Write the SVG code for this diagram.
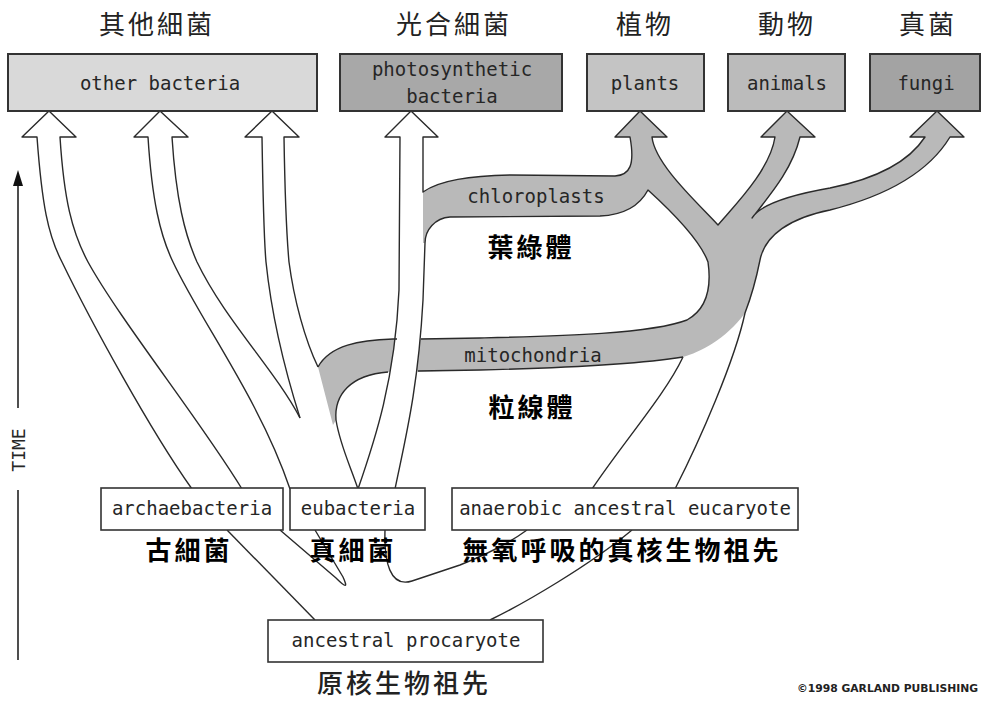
<svg xmlns="http://www.w3.org/2000/svg" width="982" height="702" viewBox="0 0 982 702">
<defs>
<style>
.bx{stroke:#333;stroke-width:2}
.bb{fill:#fff;stroke:#333;stroke-width:1.6}
.ln{fill:none;stroke:#2a2a2a;stroke-width:1.4;stroke-linejoin:round}
.lb{font-family:"DejaVu Sans Mono","Liberation Mono",monospace;font-size:19px;fill:#262626;text-anchor:middle}
.zh{font-family:"Noto Sans CJK TC","Noto Sans CJK SC",sans-serif;font-size:26px;letter-spacing:3px;fill:#222;text-anchor:middle}
.zb{font-family:"Noto Sans CJK TC","Noto Sans CJK SC",sans-serif;font-size:26px;letter-spacing:3px;font-weight:bold;fill:#000;text-anchor:middle}
</style>
</defs>
<rect width="982" height="702" fill="#fff"/>

<g id="connectors">
  <path fill="#b9b9b9" d="M640,111 L667,137 L652,137 C655,165 700,205 718,225 C735,205 770,170 775,137 L761,137 L787,111 L815,137 L800,137 C792,170 770,195 752,218 C760,205 790,195 830,188 C880,178 910,160 925,137 L910,137 L937,111 L964,137 L950,137 C930,170 890,195 830,210 C790,218 765,235 760,260 C755,285 750,300 745,313 C725,340 700,352 683,357 C640,364 560,368 480,370 L405,372 L390,372 C350,375 334,395 336,420 L333,425 L318,367 C330,345 360,340 393,339 L480,338 C560,336 650,334 687,320 C705,310 712,290 708,262 C700,240 670,210 648,190 C640,205 625,215 600,216 L450,217 C435,218 425,230 425,243 L420,243 L420,192 L423,192 C440,180 470,176 510,175 L615,176 C630,175 635,165 630,137 L615,137 Z"/>
  <path fill="#fff" d="M411,111 L438,137 L423,137 L423,300 C418,390 405,440 395,489 L358,489 C375,440 395,380 399,290 L400,137 L385,137 Z"/>

  <path class="ln" d="M192,489 C150,430 90,320 62,262 C48,235 42,205 37,137 L22,137 L49,111 L76,137 L60,137 C64,200 72,232 88,262 C120,320 200,420 242,489"/>
  <path class="ln" d="M290,489 C260,400 200,320 173,262 C160,235 152,200 148,137 L134,137 L160,111 L188,137 L172,137 C176,200 185,235 197,262 C225,320 275,370 300,418"/>
  <path class="ln" d="M300,418 C288,380 272,320 266,262 C264,240 263,200 262,137 L245,137 L272,111 L299,137 L284,137 C285,200 287,240 289,262 C294,300 305,340 318,367"/>
  <path class="ln" d="M675,489 C700,440 735,360 745,313 C750,300 755,285 760,260 C765,235 790,218 830,210 C890,195 930,170 950,137 L964,137 L937,111 L910,137 L925,137 C910,160 880,178 830,188 C790,195 760,205 752,218 C770,195 792,170 800,137 L815,137 L787,111 L761,137 L775,137 C770,170 735,205 718,225 C700,205 655,165 652,137 L667,137 L640,111 L615,137 L630,137 C635,165 630,175 615,176 L510,175 C470,176 440,180 423,192 L423,137 L438,137 L411,111 L385,137 L400,137 L399,290 C395,380 375,440 358,489"/>
  <path class="ln" d="M395,489 C405,440 418,390 423,300 L425,243 C425,230 435,218 450,217 L600,216 C625,215 640,205 648,190 C670,210 700,240 708,262 C712,290 705,310 687,320 C650,334 560,336 480,338 L421,339"/>
  <path class="ln" d="M397,339 L393,339 C360,340 330,345 318,367"/>
  <path class="ln" d="M683,357 C640,364 560,368 480,370 L418,371"/>
  <path class="ln" d="M388,372 C350,375 334,395 336,420 C340,445 350,465 358,489"/>
  <path class="ln" d="M592,489 C625,440 665,395 683,357"/>
  <path class="ln" d="M227,530 L315,620"/>
  <path class="ln" d="M280,530 L336,578 C346,588 348,588 343,577 L315,530"/>
  <path class="ln" d="M385,530 C384,562 390,588 412,581 L460,565 C490,553 512,541 527,530"/>
  <path class="ln" d="M632,530 C590,565 525,603 490,620"/>
</g>

<g id="time-axis">
  <line x1="18" y1="184" x2="18" y2="408" stroke="#222" stroke-width="1.6"/>
  <line x1="18" y1="490" x2="18" y2="660" stroke="#222" stroke-width="1.6"/>
  <path d="M18,170 L13,186 L23,186 Z" fill="#111"/>
  <text class="lb" transform="translate(24.5,450) rotate(-90)" style="font-size:18px">TIME</text>
</g>

<g id="other-bacteria">
  <rect class="bx" x="8" y="54" width="309" height="57" fill="#d9d9d9"/>
  <text class="lb" x="160" y="90">other bacteria</text>
  <text class="zh" x="157" y="34">其他細菌</text>
</g>
<g id="photosynthetic-bacteria">
  <rect class="bx" x="340" y="54" width="222" height="57" fill="#a8a8a8"/>
  <text class="lb" x="452" y="76">photosynthetic</text>
  <text class="lb" x="452" y="103">bacteria</text>
  <text class="zh" x="454" y="34">光合細菌</text>
</g>
<g id="plants">
  <rect class="bx" x="587" y="54" width="117" height="57" fill="#c4c4c4"/>
  <text class="lb" x="645" y="90">plants</text>
  <text class="zh" x="645" y="34">植物</text>
</g>
<g id="animals">
  <rect class="bx" x="728" y="54" width="117" height="57" fill="#bbbbbb"/>
  <text class="lb" x="787" y="90">animals</text>
  <text class="zh" x="787" y="34">動物</text>
</g>
<g id="fungi">
  <rect class="bx" x="870" y="54" width="110" height="57" fill="#a3a3a3"/>
  <text class="lb" x="926" y="90">fungi</text>
  <text class="zh" x="928" y="34">真菌</text>
</g>

<g id="chloroplasts">
  <text class="lb" x="536" y="203">chloroplasts</text>
  <text class="zb" x="531" y="257">葉綠體</text>
</g>
<g id="mitochondria">
  <text class="lb" x="533" y="362">mitochondria</text>
  <text class="zb" x="532" y="417">粒線體</text>
</g>

<g id="archaebacteria">
  <rect class="bb" x="101" y="488" width="182" height="42"/>
  <text class="lb" x="192" y="515">archaebacteria</text>
  <text class="zb" x="189" y="560">古細菌</text>
</g>
<g id="eubacteria">
  <rect class="bb" x="290" y="488" width="135" height="42"/>
  <text class="lb" x="358" y="515">eubacteria</text>
  <text class="zb" x="353" y="560">真細菌</text>
</g>
<g id="anaerobic-ancestral-eucaryote">
  <rect class="bb" x="452" y="488" width="346" height="42"/>
  <text class="lb" x="625" y="515">anaerobic ancestral eucaryote</text>
  <text class="zb" x="622" y="560">無氧呼吸的真核生物祖先</text>
</g>
<g id="ancestral-procaryote">
  <rect class="bb" x="268" y="620" width="275" height="42"/>
  <text class="lb" x="406" y="647">ancestral procaryote</text>
  <text class="zh" x="404" y="693" style="font-weight:500">原核生物祖先</text>
</g>

<text x="797" y="692" font-family="DejaVu Sans, sans-serif" font-size="11" font-weight="bold" fill="#222" textLength="181" lengthAdjust="spacingAndGlyphs">©1998 GARLAND PUBLISHING</text>
</svg>
